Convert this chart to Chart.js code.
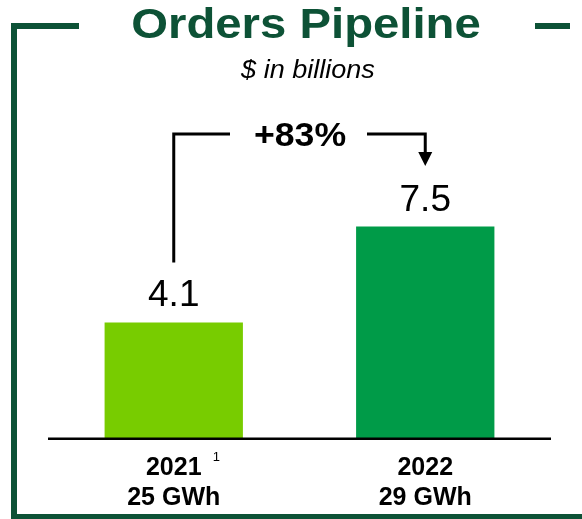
<!DOCTYPE html>
<html>
<head>
<meta charset="utf-8">
<script src="https://cdn.jsdelivr.net/npm/chart.js@4"></script>
<style>
  html, body { margin: 0; padding: 0; background: #fff; }
  #wrap { width: 582px; height: 519px; position: relative; }
</style>
</head>
<body>
<div id="wrap"><canvas id="pipelineChart" width="582" height="519"></canvas></div>
<script>
// chart data
var years      = ['2021', '2022'];
var capacity   = ['25 GWh', '29 GWh'];
var footnotes  = ['1', ''];
var orders     = [4.1, 7.5];
var barColors  = ['#78CC00', '#009B48'];
var growthText = '+83%';
var titleText  = 'Orders Pipeline';
var subText    = '$ in billions';

var DARK_GREEN = '#0D5236';

// stretched text helper (the source deck uses a wider face than Arial)
function drawText(ctx, txt, x, y, font, color, sx) {
    ctx.save();
    ctx.font = font;
    ctx.fillStyle = color;
    ctx.textAlign = 'center';
    ctx.textBaseline = 'alphabetic';
    ctx.translate(x, y);
    ctx.scale(sx || 1, 1);
    ctx.fillText(txt, 0, 0);
    ctx.restore();
}

var decorPlugin = {
    id: 'decor',
    afterDraw: function (chart) {
        var ctx = chart.ctx;
        var area = chart.chartArea;
        var xs = chart.scales.x;
        var ys = chart.scales.y;

        // frame
        ctx.save();
        ctx.fillStyle = DARK_GREEN;
        ctx.fillRect(11, 23, 6, 496);
        ctx.fillRect(11, 23, 68, 6);
        ctx.fillRect(535, 23, 35, 6);
        ctx.fillRect(11, 514, 571, 5);
        ctx.restore();

        // title + subtitle
        drawText(ctx, titleText, 306, 38, 'bold 43px "Liberation Sans", Arial, sans-serif', DARK_GREEN, 1.1);
        drawText(ctx, subText, 308, 78, 'italic 26px "Liberation Sans", Arial, sans-serif', '#000', 1.04);

        // baseline
        ctx.save();
        ctx.fillStyle = '#000';
        ctx.fillRect(area.left, area.bottom - 0.5, area.right - area.left, 2.5);
        ctx.restore();

        // values above bars + category labels
        orders.forEach(function (v, i) {
            var cx = xs.getPixelForValue(i);
            var top = ys.getPixelForValue(v);
            drawText(ctx, v.toFixed(1), cx, top - 16, '37px "Liberation Sans", Arial, sans-serif', '#000', 1);
            drawText(ctx, years[i], cx, 475, 'bold 25px "Liberation Sans", Arial, sans-serif', '#000', 1);
            drawText(ctx, capacity[i], cx, 505, 'bold 25px "Liberation Sans", Arial, sans-serif', '#000', 1);
            if (footnotes[i]) {
                ctx.save();
                ctx.font = '13px "Liberation Sans", Arial, sans-serif';
                ctx.fillStyle = '#000';
                ctx.textAlign = 'left';
                ctx.fillText(footnotes[i], cx + 39, 461);
                ctx.restore();
            }
        });

        // growth bracket
        var x1 = xs.getPixelForValue(0);
        var x2 = xs.getPixelForValue(1);
        var yTop = 134;
        ctx.save();
        ctx.strokeStyle = '#000';
        ctx.lineWidth = 3;
        ctx.beginPath();
        ctx.moveTo(x1, ys.getPixelForValue(orders[0]) - 60);
        ctx.lineTo(x1, yTop);
        ctx.lineTo(230, yTop);
        ctx.moveTo(367, yTop);
        ctx.lineTo(x2, yTop);
        ctx.lineTo(x2, 153);
        ctx.stroke();
        ctx.fillStyle = '#000';
        ctx.beginPath();
        ctx.moveTo(x2 - 7, 152);
        ctx.lineTo(x2 + 7, 152);
        ctx.lineTo(x2, 166);
        ctx.closePath();
        ctx.fill();
        ctx.restore();

        drawText(ctx, growthText, 300, 146, 'bold 33px "Liberation Sans", Arial, sans-serif', '#000', 1.08);
    }
};

new Chart(document.getElementById('pipelineChart').getContext('2d'), {
    type: 'bar',
    data: {
        labels: years,
        datasets: [{
            data: orders,
            backgroundColor: barColors,
            borderWidth: 0,
            barPercentage: 0.55,
            categoryPercentage: 1
        }]
    },
    options: {
        responsive: false,
        animation: false,
        layout: { padding: { left: 48, right: 31, top: 156, bottom: 81 } },
        plugins: {
            legend: { display: false },
            tooltip: { enabled: false },
            title: { display: false }
        },
        scales: {
            x: { display: false },
            y: { display: false, min: 0, max: 10 }
        }
    },
    plugins: [decorPlugin]
});
</script>
</body>
</html>
